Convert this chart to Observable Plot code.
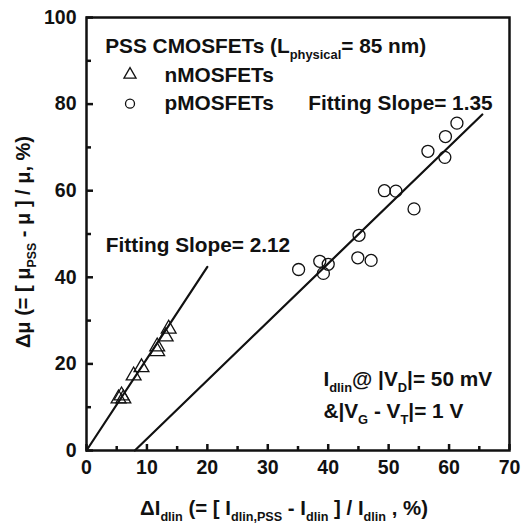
<!DOCTYPE html>
<html>
<head>
<meta charset="utf-8">
<script src="https://cdn.jsdelivr.net/npm/d3@7"></script>
<script src="https://cdn.jsdelivr.net/npm/@observablehq/plot@0.6"></script>
<style>
  html, body { margin: 0; padding: 0; background: #fff; }
</style>
</head>
<body>
<div id="chart"></div>
<script>
// nMOSFETs (triangles)
const nX = [13.6, 13.1, 11.7, 11.7, 9.1, 7.8, 5.8, 5.3, 6.1];
const nY = [28.1, 26.3, 24.0, 22.9, 19.2, 17.3, 12.7, 12.0, 12.0];
// pMOSFETs (circles)
const pX = [61.3, 59.4, 56.5, 59.3, 49.3, 51.2, 54.2, 45.1, 44.9, 47.1, 38.6, 40.0, 39.2, 35.1];
const pY = [75.6, 72.5, 69.1, 67.7, 60.0, 59.9, 55.8, 49.7, 44.5, 43.9, 43.7, 43.0, 40.9, 41.8];
// Fitting lines (end points)
const nFitX = [0, 20];
const nFitY = [0, 42.4];
const pFitX = [8, 65.5];
const pFitY = [0, 77.6];
// ticks
const xMajor = [0, 10, 20, 30, 40, 50, 60, 70];
const xMinor = [5, 15, 25, 35, 45, 55, 65];
const yMajor = [0, 20, 40, 60, 80, 100];
const yMinor = [10, 30, 50, 70, 90];
// annotations
const annX = [3.1, 12.9, 12.9, 36.7, 3.2, 39.2, 39.2];
const annY = [93.3, 86.6, 80.1, 80.1, 47.3, 16.4, 9.0];
const annText = [
  "PSS CMOSFETs (L_{physical}= 85 nm)",
  "nMOSFETs",
  "pMOSFETs",
  "Fitting Slope= 1.35",
  "Fitting Slope= 2.12",
  "I_{dlin}@ |V_{D}|= 50 mV",
  "&|V_{G} - V_{T}|= 1 V"
];
const legendX = [7.2];
const legendTriY = [86.8];
const legendCirY = [80.1];
const xLabel = "ΔI_{dlin} (= [ I_{dlin,PSS} - I_{dlin} ] / I_{dlin} , %)";
const yLabel = "Δμ (= [ μ_{PSS} - μ ] / μ, %)";

const nData = nX.map((x, i) => ({x, y: nY[i]}));
const pData = pX.map((x, i) => ({x, y: pY[i]}));
const nFit = nFitX.map((x, i) => ({x, y: nFitY[i]}));
const pFit = pFitX.map((x, i) => ({x, y: pFitY[i]}));
const ann = annText.map((t, i) => ({x: annX[i], y: annY[i], t}));

const W = 524, H = 527, mL = 86, mR = 15, mT = 17, mB = 77;
const innerH = H - mT - mB, innerW = W - mL - mR;

const plot = Plot.plot({
  width: W, height: H,
  marginLeft: mL, marginRight: mR, marginTop: mT, marginBottom: mB,
  style: {fontFamily: "'Liberation Sans', Arial, sans-serif", fontSize: "19px", fontWeight: "bold", color: "#111", background: "#fff"},
  x: {domain: [0, 70]},
  y: {domain: [0, 100]},
  marks: [
    Plot.axisX({ticks: xMajor, tickSize: 0, tickPadding: 10, label: null, fontSize: 19.5}),
    Plot.axisY({ticks: yMajor, tickSize: 0, tickPadding: 10, label: null, fontSize: 19.5}),
    Plot.tickX(xMajor, {x: d => d, insetTop: innerH - 6, stroke: "#111", strokeWidth: 2.5}),
    Plot.tickX(xMinor, {x: d => d, insetTop: innerH - 4, stroke: "#111", strokeWidth: 2.5}),
    Plot.tickY(yMajor, {y: d => d, insetRight: innerW - 7, stroke: "#111", strokeWidth: 2.5}),
    Plot.tickY(yMinor, {y: d => d, insetRight: innerW - 5, stroke: "#111", strokeWidth: 2.5}),
    Plot.line(nFit, {x: "x", y: "y", stroke: "#111", strokeWidth: 2.2}),
    Plot.line(pFit, {x: "x", y: "y", stroke: "#111", strokeWidth: 2.2}),
    Plot.dot(nData, {x: "x", y: "y", symbol: "triangle", r: 5.5, stroke: "#111", fill: "none", strokeWidth: 1.3}),
    Plot.dot(pData, {x: "x", y: "y", symbol: "circle", r: 6, stroke: "#111", fill: "none", strokeWidth: 1.3}),
    Plot.dot(legendX, {x: d => d, y: () => legendTriY[0], symbol: "triangle", r: 4.5, stroke: "#111", fill: "none", strokeWidth: 1.3}),
    Plot.dot(legendX, {x: d => d, y: () => legendCirY[0], symbol: "circle", r: 4.5, stroke: "#111", fill: "none", strokeWidth: 1.3}),
    Plot.text(ann, {x: "x", y: "y", text: "t", textAnchor: "start", fontSize: 20.8, fontWeight: "bold", fill: "#111"}),
    Plot.text([xLabel], {frameAnchor: "bottom", textAnchor: "middle", lineAnchor: "middle", dx: -14, dy: 58, text: d => d, fontSize: 20.4, fontWeight: "bold", fill: "#111"}),
    Plot.text([yLabel], {frameAnchor: "left", textAnchor: "middle", lineAnchor: "middle", dx: -63, dy: 8, rotate: -90, text: d => d, fontSize: 20, fontWeight: "bold", fill: "#111"}),
    Plot.frame({stroke: "#111", strokeWidth: 2.5})
  ]
});

// render subscripts
const NS = "http://www.w3.org/2000/svg";
plot.querySelectorAll("text").forEach(t => {
  const s = t.textContent;
  if (!s.includes("_{")) return;
  t.textContent = "";
  const re = /_\{([^}]*)\}/g;
  let last = 0, m, prevSub = false;
  const add = (str, sub) => {
    const ts = document.createElementNS(NS, "tspan");
    ts.textContent = str;
    if (sub) { ts.setAttribute("font-size", "0.62em"); ts.setAttribute("dy", "6"); }
    else if (prevSub) { ts.setAttribute("dy", "-6"); }
    prevSub = sub;
    t.appendChild(ts);
  };
  while ((m = re.exec(s))) {
    if (m.index > last) add(s.slice(last, m.index), false);
    add(m[1], true);
    last = re.lastIndex;
  }
  if (last < s.length) add(s.slice(last), false);
});

document.getElementById("chart").appendChild(plot);
</script>
</body>
</html>
